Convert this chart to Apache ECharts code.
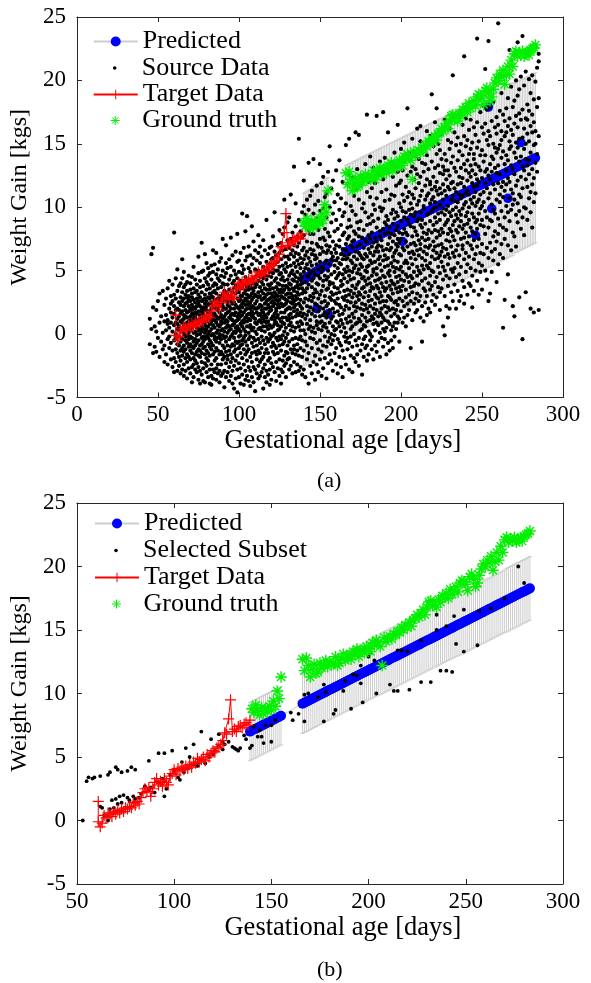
<!DOCTYPE html>
<html><head><meta charset="utf-8">
<script src="https://cdn.jsdelivr.net/npm/echarts@6/dist/echarts.min.js"></script>
<style>html,body{margin:0;padding:0;background:#fff}#c{width:591px;height:983px}</style>
</head><body><div id="c"></div>
<script>
// ---------- DATA ----------
// Source data (panel a): each row = [day, weight gains observed on that day...]
const sourceRowsA = [
[45,-0.8,1.2],[46,6.3,0.4],[47,6.8,-1.5,2.1],[48,-1.0,0.6],[49,-1.4,1.9,0.2],[50,2.6,-0.3],[51,0.9,-1.8,3.2],[52,1.4,-0.6],[53,3.4,0.1,-1.2],[54,2.3,-0.9,1.0,-2.2],
[55,0.3,2.8,-1.6,1.5],[56,-0.4,3.6,1.1,-2.4,0.8],[57,2.0,-1.1,0.5,4.2,-0.2],[58,1.7,-2.0,0.9,3.0,-0.7,2.4],[59,0.2,-1.3,2.6,1.3,-2.6,3.9],
[60,8.0,0.7,-0.5,2.2,-1.9,1.6,-3.0,3.1],[61,0.0,1.9,-1.2,4.4,0.9,-2.2,2.8,-0.3],[62,1.2,-0.8,3.4,-2.9,0.4,2.0,-1.5,5.1,0.8],[63,-0.2,2.5,1.4,-1.8,3.8,0.6,-2.5,1.9,-0.9],[64,1.0,-3.1,2.9,0.3,-1.3,4.0,1.6,-0.6,2.3,-2.1],
[65,5.9,0.2,-1.7,2.6,1.1,-0.4,3.3,-2.8,0.9,1.8,-1.1,4.4],[66,1.5,-0.9,2.2,-2.4,0.6,3.7,-1.4,1.2,-3.3,2.8,0.0,4.9],[67,-0.5,1.9,3.1,-1.9,0.8,2.4,-2.9,1.4,-0.2,3.9,0.4,-1.2],
[68,2.5,-1.6,0.3,4.1,-0.7,1.7,-2.2,2.9,0.9,-3.5,1.3,3.4,-0.1],[69,0.6,3.0,-1.0,1.8,-2.7,2.2,4.6,-0.4,1.0,-1.8,0.1,2.7],[70,1.4,-0.2,3.5,-2.0,0.7,2.0,-3.1,1.1,4.0,-1.3,0.3,2.6,-0.8],
[71,-1.5,2.3,0.5,-2.6,3.2,1.6,-0.3,4.5,0.9,-3.8,1.9,-1.0,2.9],[72,3.6,0.1,-1.9,2.1,1.2,-0.6,5.3,-2.4,0.7,2.7,-1.1,1.5,-3.4],[73,0.8,-2.8,1.7,3.3,-0.4,2.5,-1.6,0.2,4.3,-2.1,1.3,-0.9,2.0],
[74,2.2,-0.1,-3.0,1.0,3.9,-1.4,0.5,2.8,-2.3,1.6,-0.7,3.4,0.0],[75,-1.2,1.8,4.8,0.3,-2.6,2.4,-0.5,1.1,3.1,-3.6,0.9,-1.7,2.6,6.1],[76,1.1,-1.8,2.9,0.4,-0.9,3.7,-2.9,1.5,0.0,2.2,-1.3,4.2,-3.9],
[77,7.2,0.6,-2.2,2.0,3.3,-0.3,1.3,-1.5,4.9,0.2,-3.2,2.6,-0.8,1.8],[78,-0.6,2.7,1.0,-2.7,3.8,0.4,-1.1,2.1,-3.7,1.6,5.0,-0.2,0.9],[79,2.4,-1.6,0.7,3.1,-3.8,1.4,-0.4,4.4,0.1,-2.3,2.8,-1.0,1.9,6.3],
[80,0.5,3.5,-1.9,1.9,-0.2,2.6,-3.0,1.0,4.1,-1.3,0.3,2.2,-2.5,5.6],[81,5.2,1.3,-0.8,2.9,-2.1,0.6,3.9,-3.4,1.7,-0.3,2.3,-1.5,4.6,0.0],[82,1.8,-2.8,0.2,3.2,-1.0,2.4,4.8,-0.5,1.2,-3.9,2.8,0.8,-1.7,3.6],
[83,-0.1,2.0,-2.4,4.3,1.0,-1.2,3.0,0.4,-3.3,1.6,5.4,-0.7,2.5,-4.0],[84,2.9,0.7,-1.6,1.5,3.8,-2.8,0.0,2.2,-0.9,4.9,1.2,-3.5,3.3,6.6],[85,1.1,-0.4,3.4,-2.1,2.1,0.5,-3.0,4.0,1.6,-1.4,2.7,-0.2,5.5],
[86,3.9,-1.9,0.9,2.5,-0.6,1.4,-2.7,3.2,0.1,4.7,-1.1,2.0,-3.6,6.4],[87,0.3,2.8,-1.3,1.9,4.4,-2.4,0.7,3.6,-0.3,1.2,-3.1,2.4,5.1],[88,2.2,-0.7,4.2,0.6,-2.9,1.7,3.0,-1.6,0.0,5.7,-3.8,2.6,1.3,-0.2],
[89,-1.4,1.5,3.7,-0.4,2.3,0.3,-2.4,4.6,1.0,-3.3,2.9,6.0,0.8],[90,7.5,1.9,-0.9,3.1,0.4,-2.0,2.5,-3.1,4.0,1.2,-0.1,5.0,2.2,-1.6],[91,0.9,3.4,-1.8,2.0,-0.3,4.5,1.4,-2.9,0.2,2.8,-1.1,3.9,-4.2],
[92,2.7,-0.6,1.1,4.8,-2.3,0.5,3.3,-1.4,2.0,-3.4,1.6,5.6,-0.2,7.0],[93,-2.0,1.7,3.9,0.1,-0.9,2.6,5.2,-3.0,1.0,3.1,-1.7,0.7,2.3],[94,3.5,0.6,-2.6,2.2,-0.4,4.3,1.3,-1.3,2.9,-3.7,0.3,5.9,1.8],
[95,7.6,1.2,-1.0,3.0,-2.2,0.4,4.6,2.0,-0.2,-3.3,2.6,1.5,5.3,-1.6],[96,0.0,2.4,-2.9,4.0,1.1,-0.8,3.3,-1.9,6.2,0.7,2.8,-3.9,1.6],[97,2.0,-1.4,0.8,5.0,-0.3,3.6,-2.5,1.5,2.5,-4.3,0.2,4.2,-0.9],
[98,-0.6,3.2,1.7,-2.1,4.7,0.5,-3.5,2.3,1.0,6.5,-1.2,3.8,0.1],[99,7.9,1.4,-1.7,2.8,0.3,-0.7,4.4,-4.6,2.1,1.1,-2.8,3.5,5.7,0.6],[100,2.6,-0.2,4.9,1.2,-2.3,3.3,0.4,-1.1,2.0,-3.4,5.8,1.6,-0.6,3.8],
[101,0.8,3.0,-1.5,2.2,4.2,-2.7,1.4,-0.1,6.4,0.2,-3.9,2.7,1.8,-0.9],[102,9.5,2.4,-0.5,1.0,3.6,-1.9,4.8,0.6,-3.2,2.1,-0.8,5.4,1.5,3.0],[103,1.7,-1.2,3.9,0.4,-2.4,2.6,5.1,-4.0,1.1,3.2,-0.3,0.9,6.8],
[104,8.1,3.4,0.2,-1.6,2.3,4.5,-0.6,1.3,-2.9,5.8,2.8,-0.1,1.9,-3.6],[105,9.3,1.0,3.7,-0.9,2.0,-2.1,4.1,0.6,6.1,-1.4,2.6,1.5,-3.3,3.1],[106,2.9,-0.4,1.6,5.2,-2.6,3.5,0.1,-1.2,2.3,6.9,-3.7,1.2,4.3],
[107,0.5,3.8,-1.8,2.5,1.1,-0.2,4.9,-2.9,2.0,3.0,-4.1,1.6,6.2,0.7],[108,8.5,2.2,4.0,-0.7,1.4,-2.2,3.2,0.3,5.5,-1.5,2.7,-3.4,1.8,3.6],[109,1.3,-1.0,3.4,6.0,0.5,-2.6,2.1,4.4,-0.3,1.6,-3.8,2.9,7.3],
[110,3.7,0.9,-1.4,2.4,5.1,-0.5,1.2,-2.8,4.0,2.0,-4.5,3.1,0.2,6.6],[111,2.0,-2.0,4.6,0.8,3.0,-0.9,1.7,5.8,-3.1,2.6,0.0,-1.6,3.9],[112,0.4,3.3,-1.3,2.1,6.4,1.0,-2.5,4.2,-0.4,2.9,1.5,-3.5,5.0,7.8],
[113,4.5,1.6,-0.7,3.0,-2.2,2.3,0.5,5.6,-1.5,3.7,-3.3,1.1,6.9],[114,2.7,-1.1,4.1,0.9,-3.0,1.9,3.4,-0.2,6.1,2.2,-2.0,0.3,4.8,1.4],[115,-4.3,3.9,1.2,-0.5,2.8,5.3,-1.8,0.6,3.2,-2.7,4.4,1.7,7.4],
[116,1.5,4.6,-1.5,2.4,0.2,3.6,-2.4,6.6,1.0,-0.8,2.9,5.0,-3.4,2.0],[117,9.0,3.1,0.6,-1.2,4.3,2.0,-2.9,1.3,5.7,-0.3,3.5,-3.8,2.6,0.9],[118,2.3,5.2,-0.6,1.6,3.9,-2.1,0.4,6.3,2.7,-1.5,4.6,-3.2,1.0,3.2],
[119,0.7,3.5,-1.9,2.8,4.9,-0.4,1.8,-2.8,6.8,2.1,0.0,-4.0,3.8,5.5],[120,4.0,1.9,-1.0,3.2,0.5,5.9,-2.3,2.5,-0.2,4.5,1.2,-3.6,6.9,2.9],[121,2.6,-0.7,4.8,1.4,3.6,-2.6,0.6,6.0,2.2,-1.4,5.1,-0.1,3.0,7.7],
[122,9.6,3.3,0.8,-1.6,2.4,5.5,1.6,-3.0,4.2,0.1,2.9,-0.9,6.5,1.1],[123,1.8,4.4,-0.3,2.7,-2.2,3.7,0.9,6.2,-1.1,2.0,5.0,-3.7,3.1,1.3],[124,3.5,0.3,5.7,-1.5,2.3,4.0,-0.5,1.5,7.1,-2.7,3.0,0.7,5.0,2.6],
[125,2.1,-0.9,4.7,1.2,3.3,-2.0,6.4,0.4,2.7,-3.3,5.3,-0.2,3.9,8.2],[126,4.3,1.7,-1.3,3.0,5.9,0.6,-2.8,2.4,4.8,-0.4,1.0,7.2,3.5,-3.9],[127,0.9,3.8,6.6,-0.8,2.2,4.5,1.3,-2.1,5.4,2.9,-0.1,3.3,-3.0,7.9],
[128,10.6,2.8,5.1,0.2,-1.7,3.5,1.7,6.1,-0.6,4.2,2.3,-2.5,8.4,0.8],[129,3.1,-0.3,4.9,1.9,-3.4,2.7,6.7,0.5,3.8,-1.4,5.6,1.3,-2.3,2.4],[130,5.3,2.0,-0.9,3.7,7.4,1.1,4.3,-2.0,2.6,0.0,6.1,-1.5,3.2,8.8],
[131,1.5,4.6,-1.9,2.9,5.9,0.7,3.5,-0.6,2.1,6.8,-2.8,4.0,1.2,9.2],[132,11.0,3.9,0.9,6.3,-1.2,2.5,4.8,1.6,-2.5,3.2,7.5,0.3,5.4,2.0],[133,2.4,5.0,-0.4,3.6,1.3,-3.1,6.6,2.8,-1.5,4.3,0.6,8.0,3.0],
[134,13.2,4.2,1.8,-0.9,5.6,2.6,-2.2,3.4,7.0,0.2,4.7,-1.2,2.1,6.1],[135,10.3,3.0,0.5,5.3,-1.6,2.3,6.4,1.4,-3.0,4.5,3.7,-0.3,8.5,2.7],[136,1.9,4.9,-0.8,3.3,7.7,0.9,5.8,-2.4,2.8,4.1,-1.3,6.9,1.6,3.8],
[137,15.4,3.6,0.6,5.5,-1.7,2.4,4.4,7.2,-0.4,1.5,6.3,-2.9,3.1,9.0],[138,4.7,1.7,-1.1,3.9,6.0,0.3,2.7,-2.6,5.2,8.1,1.0,4.3,-0.2,2.2],[139,3.2,6.6,0.8,-1.8,4.5,2.0,5.6,-0.5,3.6,7.6,-3.2,1.4,4.0,9.6],
[140,4.9,1.6,7.8,-1.3,3.4,10.1,0.3,5.9,-2.8,2.5,6.8,12.1],[141,2.8,6.2,-0.6,4.1,8.6,1.2,-3.4,5.2,3.3,9.4,0.0],[142,5.5,0.8,3.6,-2.0,7.3,2.2,10.6,-0.9,4.6,1.5,6.5],
[143,13.5,3.9,-1.5,6.0,1.8,8.2,4.5,-3.9,2.7,0.4,5.1,9.8],[144,1.1,5.7,3.0,-0.3,7.9,2.1,-2.5,4.8,10.9,0.6,6.7],[145,4.2,8.9,-1.1,2.6,6.3,0.2,3.7,11.3,-3.1,5.4,1.6,7.2],
[146,13.8,2.9,6.6,0.5,4.4,-2.2,9.5,1.9,5.0,-0.4,3.2,7.9],[147,3.5,-1.7,5.9,1.4,8.4,-3.6,2.4,4.7,10.2,0.1,6.2],[148,6.0,2.3,-0.7,4.0,9.1,1.0,7.1,-2.4,3.3,5.5,11.7,0.7],
[149,1.8,5.1,8.2,-1.2,3.9,0.4,6.9,2.8,-3.0,10.5,4.6],[150,13.4,4.4,0.9,7.5,2.1,-2.0,5.7,3.1,9.7,-0.5,6.3,1.4],[151,2.5,6.8,-1.4,4.9,1.0,8.7,3.4,-3.3,11.9,5.3,0.3],
[152,5.2,0.6,3.8,9.9,-0.9,6.5,2.0,7.6,-2.7,4.2,1.5,12.4],[153,3.0,7.4,-0.2,5.6,1.7,10.8,4.6,-1.9,2.6,8.3,0.8],[154,6.4,2.2,-3.5,4.3,9.2,0.5,7.0,3.5,-1.0,5.8,11.1,1.3],
[155,1.6,5.0,8.0,-0.6,3.6,12.8,2.4,6.6,-2.3,4.5,0.2],[156,14.8,4.1,7.7,0.9,5.5,-1.6,2.9,10.0,3.9,-0.3,6.9,1.9],[157,3.3,8.8,-2.1,5.9,1.2,4.7,11.5,0.0,6.4,2.7,-0.8],
[158,5.8,2.0,9.5,-0.5,4.0,7.3,1.4,-2.9,6.1,3.1,12.1,0.6],[159,2.6,6.7,0.3,4.9,10.4,-1.5,3.7,8.1,1.7,5.4,-0.1],[160,7.0,3.2,-1.1,5.8,1.0,9.0,4.4,12.9,-2.4,2.4,6.4,0.4],
[161,4.6,0.9,8.3,2.8,-0.4,6.0,11.0,3.6,-3.1,5.2,1.8],[162,13.7,6.9,2.3,-1.8,4.8,9.8,0.6,7.4,3.3,-0.7,5.6,1.5],[163,3.8,8.6,0.2,5.5,-2.6,2.1,10.7,6.3,1.1,4.2,-0.9],
[164,5.9,1.6,7.8,-1.3,3.9,12.0,0.8,6.7,2.9,-3.4,4.7,9.3],[165,2.7,6.2,-0.2,4.4,9.6,1.9,5.1,-1.9,8.0,3.4,0.5],[166,14.9,4.9,1.2,7.1,-0.6,3.0,10.3,5.9,0.1,6.6,2.2,-2.4],
[167,4.1,8.4,-1.2,2.6,6.0,0.9,11.8,3.5,5.3,-0.3,7.5],[168,15.4,6.3,2.0,-0.7,4.6,9.0,1.4,7.7,3.1,-2.8,5.0,12.6],[169,3.4,7.0,0.4,5.8,-1.7,2.5,10.1,4.3,8.5,1.0,-0.2],
[170,6.8,2.9,-1.0,4.9,9.7,1.6,7.3,-3.0,3.8,5.6,12.3,0.6],[171,4.4,8.1,0.0,6.1,2.2,-1.9,10.9,3.2,5.2,1.3,7.4],[172,15.9,5.4,1.8,9.4,-0.5,3.6,7.9,2.5,-2.2,6.5,0.8,11.4],
[173,-0.9,3.0,6.9,0.9,4.8,8.8,2.1,13.0,5.9,-1.6,3.9],[174,15.7,7.7,2.7,5.1,-0.3,10.6,4.1,1.2,6.4,-2.5,8.3,3.3],[175,4.7,0.3,8.9,3.1,6.2,-1.3,2.0,11.7,5.5,1.0,7.1],
[176,6.0,2.4,9.9,-0.8,4.4,7.6,1.5,5.3,-3.2,3.6,12.5,0.4],[177,3.7,8.2,0.7,5.9,2.9,-1.8,6.8,10.3,4.5,1.9,-0.4],[178,-1.1,5.0,1.3,7.4,3.3,9.6,-0.2,6.3,2.3,4.2,13.4,0.6],
[179,17.3,4.9,8.6,2.0,6.1,-0.9,3.9,11.2,1.0,7.2,5.3,-2.1],[180,6.7,3.0,0.2,5.4,9.2,1.7,7.8,-1.6,4.4,2.6,12.0],[181,4.0,7.5,1.1,10.8,5.8,-0.5,3.4,8.7,2.2,6.4,0.0,14.0],
[182,5.6,2.7,8.0,-1.2,4.6,11.5,1.4,6.9,3.7,-0.2,9.4],[183,7.2,3.6,0.8,5.1,13.1,2.0,8.9,-2.0,4.9,6.2,1.2,10.2],[184,2.4,6.5,9.8,0.3,4.2,7.6,-0.9,3.1,11.9,5.7,1.6],
[185,17.2,5.2,8.4,1.9,6.8,-1.4,3.8,10.7,0.9,4.7,7.3,2.9],[186,4.3,0.7,7.0,12.6,2.8,5.9,-0.6,9.1,3.6,6.5,1.4],[187,8.1,3.3,5.5,-1.8,10.0,1.7,6.1,0.1,4.4,13.6,2.5,7.7],
[188,2.0,6.9,4.0,9.7,0.9,5.0,-0.3,11.2,3.0,7.4,1.5],[189,17.5,5.8,2.6,8.3,-1.0,4.6,12.2,6.6,1.3,3.7,9.9,0.4],[190,6.2,1.1,7.9,3.4,10.5,-0.4,5.3,2.2,8.8,4.5,0.2,13.9],
[191,3.6,8.6,0.5,5.9,2.6,11.4,6.7,-1.6,4.1,9.3,1.7],[192,15.9,7.1,4.8,1.0,9.0,3.0,-0.7,6.0,12.9,2.1,5.4,8.0],[193,5.0,0.8,7.6,3.8,10.6,1.9,6.6,-1.3,4.6,8.4,2.9],
[194,9.5,4.2,1.4,6.8,13.5,2.7,7.9,0.3,5.6,3.5,11.0,-0.5],[195,3.2,7.3,0.6,5.3,9.8,2.0,6.1,12.4,4.0,-1.1,8.7],[196,0.9,6.4,3.9,10.9,1.6,7.8,4.9,-0.2,9.1,2.5,5.8,14.3],
[197,4.5,8.2,1.9,6.6,0.4,11.7,3.6,7.1,2.6,5.2,9.6],[198,16.5,6.9,2.3,9.3,4.1,0.9,7.5,12.8,3.3,5.7,1.4,8.5],[199,5.1,1.2,8.0,3.7,10.3,6.3,-0.6,4.6,2.8,11.9,7.2],
[200,8.9,4.3,12.1,6.2,1.8,10.0,3.4,7.5,14.6,5.3],[201,6.8,2.6,9.7,4.9,12.9,0.9,7.9,3.8,11.0],[202,10.5,5.6,8.3,2.2,13.6,6.6,4.2,9.2,1.3,15.1],
[203,7.3,3.5,11.6,5.8,0.6,9.6,4.7,8.0,2.9],[204,17.8,9.0,4.5,6.9,12.5,2.4,10.8,5.6,7.8,1.5,13.9],[205,5.2,8.7,3.1,11.2,6.4,14.3,1.9,9.8,4.1],
[206,-1.1,7.1,10.3,4.6,2.6,8.5,12.8,6.0,3.7,9.4],[207,9.9,5.5,13.2,3.3,7.7,1.1,11.0,6.5,4.4,15.4],[208,6.3,10.7,2.4,8.4,4.9,12.2,7.2,3.8,9.3],
[209,11.5,4.0,8.1,14.0,5.9,1.7,9.6,7.0,2.8,13.0],[210,7.8,3.2,10.2,5.3,12.6,8.9,1.9,6.6,4.6,16.2],[211,9.1,5.0,11.9,2.6,7.4,13.8,6.2,3.9,10.5],
[212,4.8,8.6,1.3,10.9,6.7,15.2,3.0,9.6,7.1,12.4,16.4],[213,-0.6,7.6,11.3,5.4,9.0,2.2,13.5,6.0,4.2,8.4],[214,10.1,6.5,3.6,12.8,8.0,1.0,9.9,5.1,14.6],
[215,6.9,11.7,4.4,8.7,2.5,10.6,7.4,13.4,5.8,3.4],[216,16.0,9.4,5.4,12.2,7.9,3.0,10.9,6.3,14.1,1.5],[217,8.2,4.0,11.1,6.8,9.5,2.0,13.0,7.5,5.2],
[218,12.0,7.0,3.5,10.3,5.6,8.9,15.6,4.6,11.8,1.7],[219,18.9,9.7,6.1,13.6,3.8,8.0,11.4,5.0,2.6,10.6],[220,7.3,12.4,4.9,9.9,6.6,14.8,3.1,10.8,8.6],
[221,10.4,5.9,13.1,8.2,2.3,11.6,6.9,4.1,9.2,16.7],[222,17.8,8.8,4.5,12.0,6.4,10.0,2.9,14.2,7.6,11.3],[223,6.0,11.0,8.1,3.7,13.3,9.5,5.3,15.0,7.0],
[224,12.7,7.8,10.2,4.8,9.0,1.9,14.5,6.2,11.5,3.3],[225,9.6,5.7,13.8,8.3,3.6,11.1,7.1,15.8,6.5],[226,0.6,11.8,6.8,9.9,4.3,13.2,8.0,5.3,12.6,10.6],
[227,-0.1,8.6,14.2,6.1,11.3,3.0,9.4,12.9,5.0,16.9],[228,10.9,7.4,4.6,13.7,8.8,12.2,6.7,2.2,9.8],[229,7.9,12.9,5.5,10.1,15.3,3.8,9.0,6.3,11.6,1.3],
[230,2.0,11.4,8.3,14.6,6.0,9.6,4.4,12.5,7.3,16.2],[231,9.3,13.5,6.9,10.6,3.3,8.1,15.1,5.1,11.9],[232,20.4,12.0,7.7,9.8,4.9,14.0,6.4,10.9,2.6,8.6],
[233,10.5,6.1,13.1,8.9,15.9,5.2,11.5,7.4,3.9],[234,8.2,12.8,4.5,10.0,6.6,14.9,9.4,2.0,11.2,16.8],[235,11.8,7.0,9.1,13.7,5.6,10.4,3.4,15.5,8.0],
[236,2.6,9.7,14.4,6.2,11.0,8.5,12.4,4.7,17.4],[237,13.1,8.9,5.3,10.7,7.5,15.0,3.0,11.9,9.4],[238,7.0,12.3,9.9,4.2,14.1,6.7,10.9,16.5,8.3],
[239,21.9,10.2,5.9,13.4,8.6,11.6,3.7,15.6,7.6,2.4],[240,9.3,14.8,6.4,11.1,4.9,12.9,8.0,17.0,10.4],[241,11.3,7.2,13.7,9.6,5.5,15.3,8.7,3.1,12.1],
[242,4.0,10.0,16.1,7.7,12.7,6.1,9.0,14.2,11.0],[243,12.4,8.4,5.2,14.6,10.6,7.0,13.3,3.8,16.9],[244,2.1,9.5,11.9,6.7,15.1,8.1,12.9,4.6,10.3],
[245,13.8,10.8,7.4,16.3,5.9,11.6,9.2,14.2,3.4],[246,8.8,12.6,5.0,10.1,15.7,7.9,13.4,6.3,11.2],[247,23.3,11.7,9.0,14.7,6.9,12.2,4.2,16.7,8.3,10.4],
[248,7.5,13.2,10.6,5.6,15.2,9.5,12.0,3.1],[249,12.9,8.6,14.1,6.4,11.0,17.5,9.9,4.9],[250,10.1,14.5,7.1,12.3,5.4,16.3,9.0,3.5],
[251,13.6,8.5,11.2,15.8,6.3,10.4,18.0],[252,20.9,11.9,7.9,14.1,9.7,5.0,12.8,16.6],[253,9.2,13.0,6.8,15.3,11.5,4.3,17.7],
[254,23.1,12.5,8.4,10.7,14.9,6.0,16.0,2.6],[255,3.2,11.1,15.6,9.0,13.4,7.2,12.2,17.9],[256,14.0,10.2,6.5,12.8,8.9,16.8,4.9],
[257,11.8,15.0,7.7,13.8,9.8,5.8,18.3],[258,9.5,13.1,16.3,8.1,11.4,6.7,14.7],[259,12.7,7.3,15.8,10.6,14.3,4.1,17.1],
[260,24.5,13.3,9.1,11.9,16.5,7.9,14.6,5.5],[261,10.4,14.9,8.6,12.6,17.6,6.3,11.0],[262,13.9,9.7,16.0,11.6,7.1,15.3,19.0],
[263,0.5,12.0,8.4,14.4,10.8,17.3,6.0],[264,15.6,11.3,13.4,9.2,16.8,7.5,2.7],[265,12.9,17.8,10.1,14.1,8.2,15.9,11.8],
[266,9.6,13.7,16.4,7.0,12.3,18.6,4.7],[267,22.4,14.6,10.7,12.0,17.0,8.9,15.2],[268,11.4,16.1,9.8,13.3,6.6,14.8,19.5],
[269,13.0,8.0,15.7,11.1,17.9,10.2,2.2],[270,14.3,10.6,18.4,12.6,7.7,16.6,1.4],[271,9.4,13.9,11.7,17.2,15.1,6.9,20.0],
[272,12.1,16.3,8.8,14.7,10.3,18.8,23.0],[273,15.4,11.0,13.6,19.3,9.7,17.4,2.9],[274,10.8,14.0,16.9,12.4,8.3,20.3],
[275,23.5,13.2,17.7,11.5,15.5,-0.4,9.2],[276,14.6,10.0,16.2,12.9,19.6,7.8],[277,12.2,17.0,9.9,15.0,13.8,20.7,3.3],
[278,15.8,11.6,18.1,13.3,9.0,16.9],[279,13.7,17.6,10.7,20.1,12.6,15.2],[280,11.2,16.4,14.3,19.0,9.6,2.0],
[281,17.3,13.0,15.9,11.8,20.4,8.4],[282,14.9,12.3,18.5,10.4,16.7,1.7],[283,22.7,16.0,13.5,19.9,11.1,15.0],
[284,17.9,14.2,21.0,12.8],[285,21.5,15.6,1.9,22.1,18.6]
];

// Predicted mean (panel a): [day, mean, error half-width]
const predictedA = [
[140,4.30,6.8],[141,4.38,6.8],[142,4.46,6.8],[143,4.55,6.8],[144,4.63,6.8],[145,4.71,6.8],[146,4.80,6.8],[147,4.88,6.8],[148,4.96,6.8],[149,5.05,6.8],[150,5.13,6.8],[151,5.21,6.8],[152,5.30,6.8],[153,5.38,6.8],[154,5.46,6.8],[155,5.55,6.8],
[166,6.50,6.8],[167,6.56,6.8],[168,6.63,6.8],[169,6.69,6.8],[170,6.75,6.8],[171,6.82,6.8],[172,6.88,6.8],[173,6.94,6.8],[174,7.01,6.8],[175,7.07,6.8],[176,7.13,6.8],[177,7.20,6.8],[178,7.26,6.8],[179,7.32,6.8],
[180,7.38,6.8],[181,7.45,6.8],[182,7.51,6.8],[183,7.57,6.8],[184,7.64,6.8],[185,7.70,6.8],[186,7.76,6.8],[187,7.83,6.8],[188,7.89,6.8],[189,7.95,6.8],[190,8.02,6.8],[191,8.08,6.8],[192,8.14,6.8],[193,8.21,6.8],
[194,8.27,6.8],[195,8.33,6.8],[196,8.40,6.8],[197,8.46,6.8],[198,8.52,6.8],[199,8.59,6.8],[200,8.65,6.8],[201,8.71,6.8],[202,8.78,6.8],[203,8.84,6.8],[204,8.90,6.8],[205,8.96,6.8],[206,9.03,6.8],[207,9.09,6.8],
[208,9.15,6.8],[209,9.22,6.8],[210,9.28,6.8],[211,9.34,6.8],[212,9.41,6.8],[213,9.47,6.8],[214,9.53,6.8],[215,9.60,6.8],[216,9.66,6.8],[217,9.72,6.8],[218,9.79,6.8],[219,9.85,6.8],[220,9.91,6.8],[221,9.98,6.8],
[222,10.04,6.8],[223,10.10,6.8],[224,10.17,6.8],[225,10.23,6.8],[226,10.29,6.8],[227,10.36,6.8],[228,10.42,6.8],[229,10.48,6.8],[230,10.54,6.8],[231,10.61,6.8],[232,10.67,6.8],[233,10.73,6.8],[234,10.80,6.8],
[235,10.86,6.8],[236,10.92,6.8],[237,10.99,6.8],[238,11.05,6.8],[239,11.11,6.8],[240,11.18,6.8],[241,11.24,6.8],[242,11.30,6.8],[243,11.37,6.8],[244,11.43,6.8],[245,11.49,6.8],[246,11.56,6.8],[247,11.62,6.8],
[248,11.68,6.8],[249,11.75,6.8],[250,11.81,6.8],[251,11.87,6.8],[252,11.94,6.8],[253,12.00,6.8],[254,12.06,6.8],[255,12.12,6.8],[256,12.19,6.8],[257,12.25,6.8],[258,12.31,6.8],[259,12.38,6.8],[260,12.44,6.8],
[261,12.50,6.8],[262,12.57,6.8],[263,12.63,6.8],[264,12.69,6.8],[265,12.76,6.8],[266,12.82,6.8],[267,12.88,6.8],[268,12.95,6.8],[269,13.01,6.8],[270,13.07,6.7],[271,13.14,6.7],[272,13.20,6.7],[273,13.26,6.7],
[274,13.33,6.7],[275,13.39,6.7],[276,13.45,6.7],[277,13.52,6.7],[278,13.58,6.7],[279,13.64,6.7],[280,13.71,6.7],[281,13.77,6.7],[282,13.83,6.7],[283,13.90,6.7]
];
// Predicted points lying off the main curve (panel a)
const predictedOffA = [[148,2.0],[155,1.6],[201,7.3],[246,7.8],[254,17.9],[256,9.9],[266,10.7],[274,15.1]];

// Predicted mean (panel b): [day, mean, error half-width]
const predictedB = [
[139,7.00,2.3],[140,7.08,2.3],[141,7.16,2.3],[142,7.23,2.3],[143,7.31,2.3],[144,7.39,2.3],[145,7.47,2.3],[146,7.55,2.3],[147,7.63,2.3],[148,7.70,2.3],[149,7.78,2.3],[150,7.86,2.3],[151,7.94,2.3],[152,8.02,2.3],[153,8.10,2.3],[154,8.17,2.3],[155,8.25,2.3],
[166,9.20,2.35],[167,9.28,2.35],[168,9.36,2.35],[169,9.43,2.35],[170,9.51,2.35],[171,9.59,2.35],[172,9.67,2.35],[173,9.74,2.35],[174,9.82,2.35],[175,9.90,2.35],[176,9.98,2.35],[177,10.05,2.35],[178,10.13,2.35],
[179,10.21,2.35],[180,10.29,2.35],[181,10.36,2.35],[182,10.44,2.35],[183,10.52,2.35],[184,10.60,2.35],[185,10.67,2.35],[186,10.75,2.35],[187,10.83,2.35],[188,10.91,2.35],[189,10.98,2.35],[190,11.06,2.35],
[191,11.14,2.35],[192,11.22,2.35],[193,11.30,2.35],[194,11.37,2.35],[195,11.45,2.35],[196,11.53,2.35],[197,11.61,2.35],[198,11.68,2.35],[199,11.76,2.35],[200,11.84,2.35],[201,11.92,2.35],[202,11.99,2.35],
[203,12.07,2.35],[204,12.15,2.35],[205,12.23,2.35],[206,12.30,2.4],[207,12.38,2.4],[208,12.46,2.4],[209,12.54,2.4],[210,12.61,2.4],[211,12.69,2.4],[212,12.77,2.4],[213,12.85,2.4],[214,12.92,2.4],[215,13.00,2.4],
[216,13.08,2.4],[217,13.16,2.4],[218,13.23,2.4],[219,13.31,2.4],[220,13.39,2.4],[221,13.47,2.4],[222,13.54,2.4],[223,13.62,2.4],[224,13.70,2.4],[225,13.78,2.4],[226,13.85,2.4],[227,13.93,2.4],[228,14.01,2.4],
[229,14.09,2.4],[230,14.17,2.4],[231,14.24,2.4],[232,14.32,2.4],[233,14.40,2.4],[234,14.48,2.4],[235,14.55,2.4],[236,14.63,2.4],[237,14.71,2.4],[238,14.79,2.4],[239,14.86,2.4],[240,14.94,2.4],[241,15.02,2.4],
[242,15.10,2.4],[243,15.17,2.4],[244,15.25,2.4],[245,15.33,2.4],[246,15.41,2.45],[247,15.48,2.45],[248,15.56,2.45],[249,15.64,2.45],[250,15.72,2.45],[251,15.79,2.45],[252,15.87,2.45],[253,15.95,2.45],
[254,16.03,2.45],[255,16.10,2.45],[256,16.18,2.45],[257,16.26,2.45],[258,16.34,2.45],[259,16.41,2.45],[260,16.49,2.45],[261,16.57,2.45],[262,16.65,2.45],[263,16.72,2.45],[264,16.80,2.45],[265,16.88,2.45],
[266,16.96,2.45],[267,17.04,2.45],[268,17.11,2.45],[269,17.19,2.45],[270,17.27,2.45],[271,17.35,2.5],[272,17.42,2.5],[273,17.50,2.5],[274,17.58,2.5],[275,17.66,2.5],[276,17.73,2.5],[277,17.81,2.5],
[278,17.89,2.5],[279,17.97,2.5],[280,18.04,2.5],[281,18.12,2.5],[282,18.20,2.5],[283,18.28,2.5]
];

// Target data (both panels)
const targetData = [
[61,1.5],[61,-0.1],[62,-0.5],[63,-0.2],[64,0.4],[65,0.2],[66,0.6],[67,0.5],[68,0.3],[69,0.7],[70,0.5],[71,0.8],[72,0.6],[73,0.9],[74,0.7],[75,1.0],[76,0.9],[77,1.1],[78,1.0],[79,1.4],[80,1.2],
[81,1.5],[82,1.3],[83,1.8],[84,2.2],[85,2.5],[86,2.3],[87,2.6],[88,1.9],[89,2.5],[90,3.0],[91,3.3],[92,2.8],[93,3.1],[94,2.7],[95,3.3],[96,3.0],[97,2.8],[98,3.5],[99,3.7],[100,4.0],
[101,3.6],[102,4.1],[103,3.9],[104,4.2],[105,4.0],[106,4.3],[107,4.1],[108,4.4],[109,4.2],[110,4.6],[111,4.5],[112,4.9],[113,4.6],[114,4.8],[115,5.0],[116,4.7],[117,5.2],[118,5.0],[119,5.3],[120,5.5],
[121,5.4],[122,5.7],[123,5.8],[124,6.0],[125,6.3],[126,6.9],[127,6.8],[128,8.0],[129,9.5],[130,7.0],[131,7.2],[132,7.0],[133,7.4],[134,7.5],[135,7.3],[136,7.6],[137,7.7],[138,7.5],[139,7.9]
];

// Ground truth (both panels)
const groundTruth = [
[140,8.8],[141,8.5],[142,9.1],[143,8.6],[144,8.3],[145,8.9],[146,8.4],[147,8.8],[148,8.6],[149,9.0],[150,8.7],[151,9.4],[152,9.0],[153,10.2],[154,9.6],[155,11.3],
[166,12.7],[167,11.8],[168,12.8],[169,12.2],[170,11.3],[171,11.9],[172,12.3],[173,11.6],[174,11.7],[175,12.4],[176,12.0],[177,12.2],[178,12.6],[179,12.1],[180,12.5],[181,12.3],[182,12.4],[183,12.9],
[184,12.2],[185,12.4],[186,12.8],[187,13.1],[188,12.6],[189,13.0],[190,13.0],[191,12.7],[192,13.3],[193,13.1],[194,13.5],[195,12.9],[196,13.4],[197,13.4],[198,13.2],[199,13.7],[200,13.5],[201,13.3],
[202,14.0],[203,13.8],[204,14.2],[205,14.0],[206,13.7],[207,12.2],[208,14.4],[209,14.1],[210,14.3],[211,14.5],[212,14.3],[213,14.7],[214,14.6],[215,14.9],[216,14.8],[217,15.2],[218,15.0],[219,15.4],
[220,15.2],[221,15.6],[222,15.3],[223,15.8],[224,15.9],[225,16.2],[226,16.0],[227,16.3],[228,16.6],[229,16.2],[230,16.8],[231,17.2],[232,17.3],[233,16.9],[234,17.0],[235,16.8],[236,17.4],[237,17.2],
[238,17.7],[239,17.6],[240,17.9],[241,17.5],[242,18.2],[243,17.8],[244,18.1],[245,18.4],[246,18.0],[247,18.7],[248,18.9],[249,18.8],[250,18.6],[251,18.1],[252,19.2],[253,19.4],[254,19.0],[255,18.4],
[256,18.7],[257,19.3],[258,19.8],[259,20.2],[260,20.0],[261,20.5],[262,20.3],[263,20.8],[264,19.7],[265,20.4],[266,21.1],[267,20.5],[268,21.6],[269,21.1],[270,22.1],[271,22.3],[272,21.9],[273,22.2],
[274,22.0],[275,22.3],[276,21.9],[277,22.1],[278,22.2],[279,22.0],[280,22.4],[281,22.5],[282,22.6],[283,22.8]
];

// Selected subset (panel b)
const subsetB = [
[53,0.0],[55,3.1],[56,3.4],[58,3.3],[59,3.4],[62,3.5],[66,3.6],[67,3.8],[70,4.2],[71,4.0],[73,3.8],[76,3.9],[78,4.2],[80,4.0],[87,4.7],[92,5.3],[95,5.3],[99,5.5],[106,5.7],[110,6.0],[114,7.0],[119,6.4],[123,6.8],[125,6.2],
[62,1.1],[63,1.0],[64,0.4],[66,0.0],[67,0.9],[68,1.6],[69,1.0],[70,1.7],[71,1.3],[72,1.9],[73,1.4],[74,2.0],[76,1.8],[77,1.6],[79,1.9],[80,1.7],[82,1.8],[83,2.1],[85,2.7],[87,2.4],[88,2.6],[90,2.2],
[92,3.0],[94,3.3],[95,1.9],[96,2.5],[98,3.6],[100,3.9],[102,3.4],[103,3.2],[104,4.6],[105,3.8],[107,4.1],[108,5.0],[110,4.4],[112,4.3],[114,4.8],[116,4.5],[118,5.0],[120,5.2],[121,5.5],[123,5.9],
[125,5.6],[126,6.0],[128,6.2],[130,5.8],[131,5.7],[132,5.6],[133,5.5],[134,5.7],[136,6.7],[137,6.4],[139,5.7],[140,5.9],[141,7.4],[143,6.6],[144,7.1],[145,6.6],[146,6.1],[147,7.5],[150,7.5],[150,6.2],
[152,7.9],[160,8.5],[161,7.9],[164,8.4],[167,7.8],[167,9.9],[169,10.0],[174,9.7],[177,7.8],[177,10.7],[178,10.1],[182,8.4],[183,8.7],[187,10.2],[188,11.0],[191,8.8],[192,11.5],[194,11.4],[196,10.8],
[197,9.3],[196,12.2],[200,12.9],[201,13.2],[203,12.6],[204,10.0],[211,10.7],[213,10.2],[215,10.2],[215,13.4],[217,13.4],[220,13.3],[221,10.3],[227,10.9],[227,14.2],[232,10.9],[235,15.0],[235,16.2],
[237,11.8],[240,11.8],[240,15.3],[243,11.7],[244,16.1],[245,13.9],[249,13.3],[249,16.6],[256,13.8],[257,16.5],[263,16.7],[270,17.5],[277,20.0],[280,18.7]
];

const xRangeA = [0, 300];
const xRangeB = [50, 300];
const yRange = [-5, 25];

// ---------- CHART ----------
const FONT = 'Liberation Serif';
const sourceA = [];
sourceRowsA.forEach(r => { for (let i = 1; i < r.length; i++) sourceA.push([r[0], r[i]]); });

const PLUS = 'path://M5,0L5,10M0,5L10,5';
const STAR = 'path://M5,0L5,10M0,5L10,5M1.5,1.5L8.5,8.5M8.5,1.5L1.5,8.5';
const GREY = '#cdcdcd';
const axisCol = {color: '#262626', width: 1};

function xAxes(gi, range, gap) {
  const base = {gridIndex: gi, type: 'value', min: range[0], max: range[1], interval: 50,
    axisLine: {show: true, onZero: false, lineStyle: axisCol},
    axisTick: {show: true, inside: true, length: 5, lineStyle: axisCol},
    splitLine: {show: false}};
  return [
    Object.assign({}, base, {position: 'bottom',
      axisLabel: {fontFamily: FONT, fontSize: 23, color: '#000', margin: 6},
      name: 'Gestational age [days]', nameLocation: 'middle', nameGap: gap,
      nameTextStyle: {fontFamily: FONT, fontSize: 26.5, color: '#000', padding: [0, 0, 0, 46]}}),
    Object.assign({}, base, {position: 'top', axisLabel: {show: false}})
  ];
}
function yAxes(gi) {
  const base = {gridIndex: gi, type: 'value', min: yRange[0], max: yRange[1], interval: 5,
    axisLine: {show: true, onZero: false, lineStyle: axisCol},
    axisTick: {show: true, inside: true, length: 5, lineStyle: axisCol},
    splitLine: {show: false}};
  return [
    Object.assign({}, base, {position: 'left',
      axisLabel: {fontFamily: FONT, fontSize: 23, color: '#000', margin: 11},
      name: 'Weight Gain [kgs]', nameLocation: 'middle', nameGap: 33,
      nameTextStyle: {fontFamily: FONT, fontSize: 24, color: '#000', padding: [0, 0, 0, 20]}}),
    Object.assign({}, base, {position: 'right', axisLabel: {show: false}})
  ];
}

function errorBars(rows, xi, yi) {
  return {type: 'custom', xAxisIndex: xi, yAxisIndex: yi, z: 1, silent: true, clip: true,
    data: rows, encode: {x: 0, y: 1},
    renderItem: function (params, api) {
      const x = api.value(0), y = api.value(1), e = api.value(2);
      const lo = api.coord([x, y - e]), hi = api.coord([x, y + e]);
      const st = {stroke: GREY, lineWidth: 1};
      return {type: 'group', children: [
        {type: 'line', shape: {x1: lo[0], y1: lo[1], x2: hi[0], y2: hi[1]}, style: st},
        {type: 'line', shape: {x1: lo[0] - 2, y1: lo[1], x2: lo[0] + 2, y2: lo[1]}, style: st},
        {type: 'line', shape: {x1: hi[0] - 2, y1: hi[1], x2: hi[0] + 2, y2: hi[1]}, style: st}
      ]};
    }};
}

function panelSeries(xi, yi, pred, off, dots, dotsName, dotSize, predSize) {
  const s = [
    errorBars(pred, xi, yi),
    {name: 'Predicted', type: 'line', xAxisIndex: xi, yAxisIndex: yi, z: 2, data: pred,
      symbol: 'circle', symbolSize: predSize, showSymbol: true,
      itemStyle: {color: '#0000ff', opacity: 1}, lineStyle: {color: GREY, width: 1}},
    {name: dotsName, type: 'scatter', xAxisIndex: xi, yAxisIndex: yi, z: 3, data: dots,
      large: false, largeThreshold: 100000, progressive: 0,
      symbol: 'circle', symbolSize: dotSize, itemStyle: {color: '#000', opacity: 1}},
    {name: 'Target Data', type: 'line', xAxisIndex: xi, yAxisIndex: yi, z: 4, data: targetData,
      symbol: PLUS, symbolSize: 11, showSymbol: true,
      itemStyle: {color: '#ff0000', borderColor: '#ff0000', borderWidth: 1.2, opacity: 1},
      lineStyle: {color: '#ff0000', width: 1}},
    {name: 'Ground truth', type: 'scatter', xAxisIndex: xi, yAxisIndex: yi, z: 5, data: groundTruth,
      symbol: STAR, symbolSize: 11.5,
      itemStyle: {color: '#00ff00', borderColor: '#00f000', borderWidth: 1.4, opacity: 1}}
  ];
  if (off) s.splice(2, 0, {type: 'scatter', xAxisIndex: xi, yAxisIndex: yi, z: 2, data: off,
      symbol: 'circle', symbolSize: predSize, itemStyle: {color: '#0000ff', opacity: 1}});
  return s;
}

function legendsFor(names, left, centers) {
  const h = [12.5, 3.6, 12, 9];
  const bw = [0, 0, 1, 1];
  return names.map((n, i) => ({
    data: [n], left: (i === 1 || i === 3) ? left + 22 - h[i] / 2 : left,
    top: centers[i] - 13, orient: 'vertical', padding: 0,
    itemWidth: 44, itemHeight: h[i], itemGap: 0, selectedMode: false,
    itemStyle: {borderWidth: bw[i]},
    textStyle: {fontFamily: FONT, fontSize: 26, color: '#000', lineHeight: 26}
  }));
}

const chart = echarts.init(document.getElementById('c'), null, {renderer: 'canvas'});
chart.setOption({
  animation: false,
  backgroundColor: '#fff',
  textStyle: {fontFamily: FONT},
  title: [
    {text: '(a)', left: 317, top: 470, padding: 0, textStyle: {fontFamily: FONT, fontSize: 22, fontWeight: 'normal', color: '#000'}},
    {text: '(b)', left: 317, top: 959, padding: 0, textStyle: {fontFamily: FONT, fontSize: 22, fontWeight: 'normal', color: '#000'}}
  ],
  grid: [
    {left: 75, top: 17, width: 488, height: 380.5},
    {left: 75, top: 503, width: 488, height: 381}
  ],
  xAxis: [].concat(xAxes(0, xRangeA, 26), xAxes(1, xRangeB, 31)),
  yAxis: [].concat(yAxes(0), yAxes(1)),
  legend: [].concat(
    legendsFor(['Predicted', 'Source Data', 'Target Data', 'Ground truth'], 92.7, [41.5, 68, 94.5, 120.5]),
    legendsFor(['Predicted', 'Selected Subset', 'Target Data', 'Ground truth'], 94, [523.5, 550.5, 577.5, 604])
  ),
  series: [].concat(
    panelSeries(0, 0, predictedA, predictedOffA, sourceA, 'Source Data', 4.2, 9.5),
    panelSeries(2, 2, predictedB, null, subsetB, 'Selected Subset', 3.8, 10)
  )
});
</script>
</body></html>
